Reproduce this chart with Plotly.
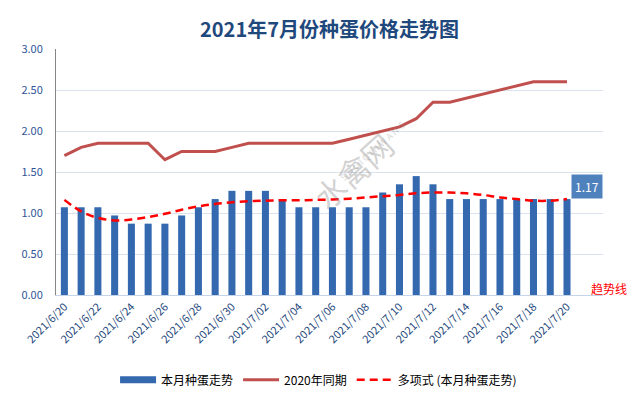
import plotly.graph_objects as go

dates = ["2021/6/20", "2021/6/21", "2021/6/22", "2021/6/23", "2021/6/24", "2021/6/25",
         "2021/6/26", "2021/6/27", "2021/6/28", "2021/6/29", "2021/6/30",
         "2021/7/01", "2021/7/02", "2021/7/03", "2021/7/04", "2021/7/05", "2021/7/06",
         "2021/7/07", "2021/7/08", "2021/7/09", "2021/7/10", "2021/7/11", "2021/7/12",
         "2021/7/13", "2021/7/14", "2021/7/15", "2021/7/16", "2021/7/17", "2021/7/18",
         "2021/7/19", "2021/7/20"]

this_month = [1.07, 1.07, 1.07, 0.97, 0.87, 0.87, 0.87, 0.97, 1.07, 1.17, 1.27,
              1.27, 1.27, 1.17, 1.07, 1.07, 1.07, 1.07, 1.07, 1.25, 1.35, 1.45, 1.35,
              1.17, 1.17, 1.17, 1.17, 1.17, 1.17, 1.17, 1.17]

last_year = [1.70, 1.80, 1.85, 1.85, 1.85, 1.85, 1.65, 1.75, 1.75, 1.75, 1.80,
             1.85, 1.85, 1.85, 1.85, 1.85, 1.85, 1.90, 1.95, 2.00, 2.05, 2.15, 2.35,
             2.35, 2.40, 2.45, 2.50, 2.55, 2.60, 2.60, 2.60]

trend = [1.16, 1.02, 0.94, 0.91, 0.92, 0.95, 0.99, 1.04, 1.08, 1.11, 1.13,
         1.145, 1.15, 1.155, 1.155, 1.16, 1.165, 1.175, 1.19, 1.205, 1.22, 1.24, 1.25,
         1.25, 1.24, 1.22, 1.19, 1.17, 1.15, 1.15, 1.17]

y_ticks = [0, 0.5, 1.0, 1.5, 2.0, 2.5, 3.0]
x_ticks = dates[::2]

font_family = "Noto Sans CJK SC, Noto Sans, sans-serif"
bar_color = "#3469af"

fig = go.Figure()
fig.add_trace(go.Bar(x=dates, y=this_month, name="本月种蛋走势", showlegend=False,
                     marker=dict(color=bar_color, line=dict(width=0))))
# legend entry for the bars drawn as a wide swatch
fig.add_trace(go.Scatter(x=[None], y=[None], name="本月种蛋走势", mode="lines",
                         line=dict(color=bar_color, width=7)))
fig.add_trace(go.Scatter(x=dates, y=last_year, name="2020年同期", mode="lines",
                         line=dict(color="#c0504d", width=3)))
fig.add_trace(go.Scatter(x=dates, y=trend, name="多项式 (本月种蛋走势)", mode="lines",
                         line=dict(color="#ff0000", width=2.5, dash="8px,5px", shape="spline")))

fig.add_annotation(x=dates[-1], y=this_month[-1], text=f"{this_month[-1]:.2f}",
                   showarrow=False, xshift=20, yshift=13, bgcolor="#4f81bd",
                   font=dict(color="white", size=12, family=font_family), borderpad=3)
fig.add_annotation(xref="paper", yref="paper", x=1.048, y=-0.016, text="趋势线",
                   showarrow=False, font=dict(color="#ff0000", size=12, family=font_family))
fig.add_annotation(xref="paper", yref="paper", x=0.543, y=0.71, text="水禽网",
                   showarrow=False, textangle=-42,
                   font=dict(color="rgba(140,140,140,0.4)", size=31, family=font_family))
fig.add_annotation(xref="paper", yref="paper", x=0.578, y=0.585, text="S H U I Q I N W A N G",
                   showarrow=False, textangle=-42,
                   font=dict(color="rgba(140,140,140,0.35)", size=9, family=font_family))

fig.update_layout(
    width=643, height=394,
    margin=dict(l=48, r=48, t=41, b=107, autoexpand=False),
    paper_bgcolor="white", plot_bgcolor="white",
    title=dict(text="<b>2021年7月份种蛋价格走势图</b>", x=0.5, xanchor="center",
               y=0.944, yanchor="middle",
               font=dict(size=20, color="#1f497d", family=font_family)),
    font=dict(family=font_family),
    bargap=0.58,
    showlegend=True,
    legend=dict(orientation="h", x=0.48, xanchor="center", y=-0.345, yanchor="middle",
                font=dict(size=12, color="#000000", family=font_family),
                itemwidth=36, tracegroupgap=0),
    xaxis=dict(type="category", tickmode="array", tickvals=x_ticks, ticktext=x_ticks,
               tickangle=-45, tickfont=dict(size=11, color="#1f497d", family=font_family),
               showgrid=False, showline=True, linecolor="#c5d4e8", linewidth=1,
               ticks="", zeroline=False, automargin=False),
    yaxis=dict(range=[0, 3.0], tickmode="array", tickvals=y_ticks,
               ticktext=[f"{v:.2f}" for v in y_ticks],
               tickfont=dict(size=11, color="#2f5597", family=font_family),
               ticklabelstandoff=10,
               showgrid=True, gridcolor="#d9e3f0", gridwidth=1,
               showline=True, linecolor="#868686", linewidth=1, zeroline=False,
               ticks="", automargin=False),
)

fig.write_html("out.html")
